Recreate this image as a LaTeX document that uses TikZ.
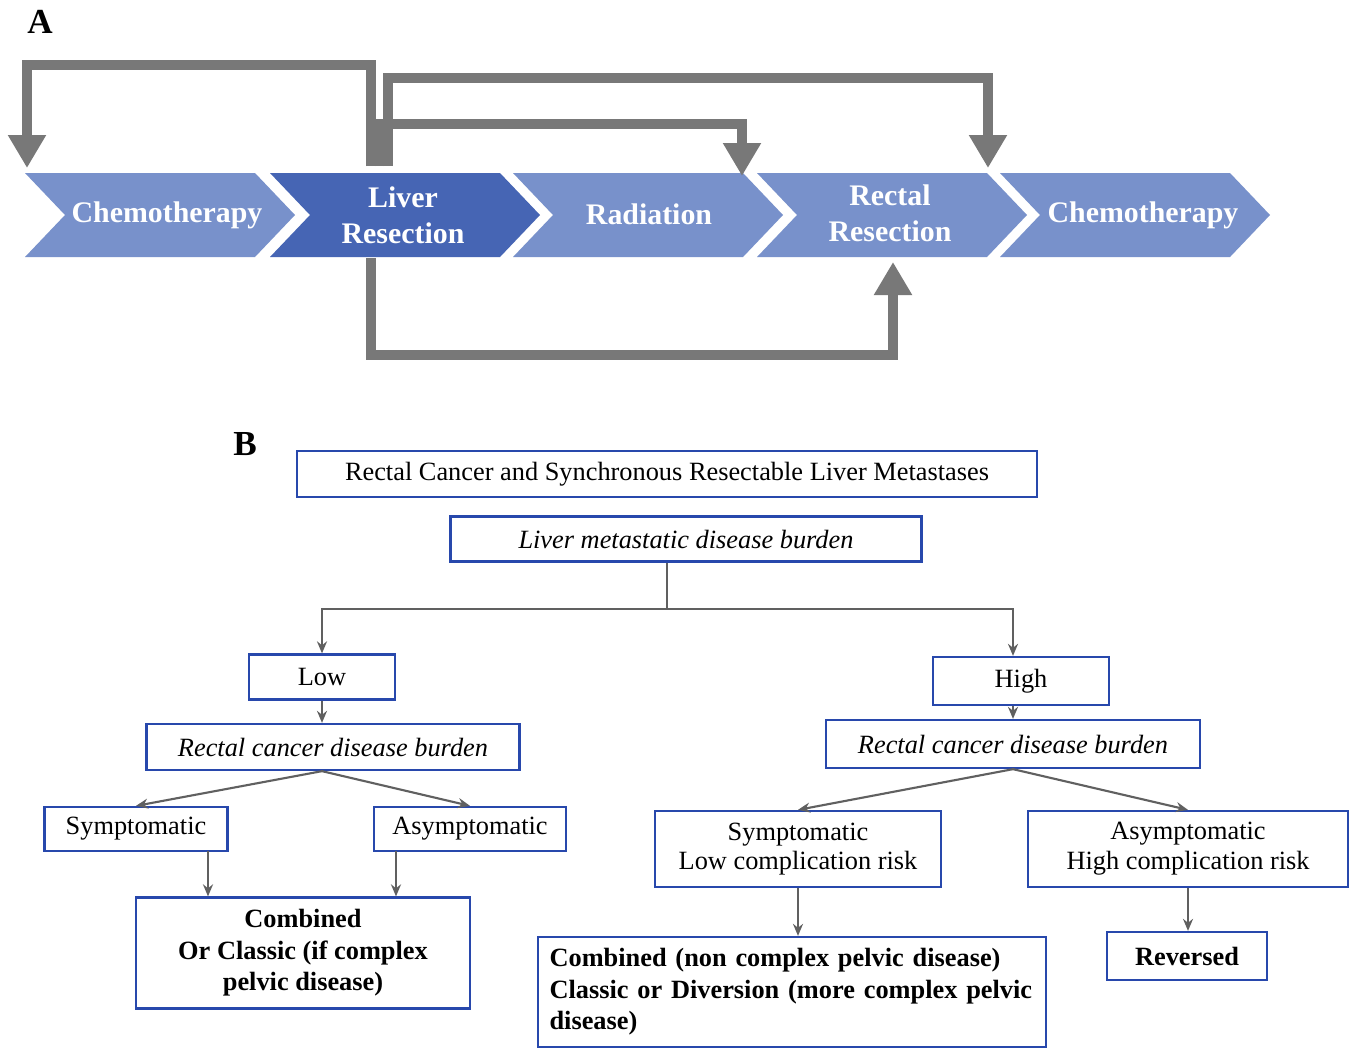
\documentclass[tikz,border=0pt]{standalone}
\usepackage{fontspec}
\setmainfont{Liberation Serif}
\usetikzlibrary{arrows.meta}

\definecolor{chevlight}{RGB}{120,145,203}
\definecolor{chevdark}{RGB}{70,101,180}
\definecolor{bargray}{RGB}{120,120,120}
\definecolor{boxblue}{RGB}{40,72,172}
\definecolor{flowgray}{RGB}{96,96,96}

\tikzset{
  chevtext/.style={text=white, font=\fontsize{17}{20.5}\selectfont\bfseries, align=center},
  bigarrow/.style={draw=bargray, line width=0.2cm, line join=miter, -{Triangle[length=0.66cm, width=0.72cm]}},
  panel/.style={font=\fontsize{20}{24}\selectfont\bfseries},
  blbox/.style={draw=boxblue, line width=1.3pt, inner sep=0pt, align=center, font=\fontsize{15}{17}\selectfont},
  itbox/.style={blbox, font=\fontsize{15}{17}\selectfont\itshape},
  bdbox/.style={blbox, font=\fontsize{15}{18}\selectfont\bfseries},
  flowline/.style={draw=flowgray, line width=1.2pt},
  flow/.style={flowline, -{Stealth[length=0.24cm, width=0.2cm]}}
}

\begin{document}
\begin{tikzpicture}[x=0.02cm, y=-0.02cm]

  \path[use as bounding box, fill=white] (0,0) rectangle (1352,1049);

  % A: treatment sequence
  \node[panel] (labelA) at (40,22) {A};

  \fill[chevlight] (25,173) -- (255,173) -- (295,215) -- (255,257) -- (25,257) -- (65,215) -- cycle;
  \node[chevtext] (chemo1) at (167,215) {Chemotherapy};

  \fill[chevdark] (270,173) -- (500,173) -- (540,215) -- (500,257) -- (270,257) -- (310,215) -- cycle;
  \node[chevtext] (liver) at (403,215) {Liver\\Resection};

  \fill[chevlight] (513,173) -- (743,173) -- (783,215) -- (743,257) -- (513,257) -- (553,215) -- cycle;
  \node[chevtext] (radiation) at (649,214) {Radiation};

  \fill[chevlight] (757,173) -- (987,173) -- (1027,215) -- (987,257) -- (757,257) -- (797,215) -- cycle;
  \node[chevtext] (rectal) at (890,213) {Rectal\\Resection};

  \fill[chevlight] (1000,173) -- (1230,173) -- (1270,215) -- (1230,257) -- (1000,257) -- (1040,215) -- cycle;
  \node[chevtext] (chemo2) at (1143,215) {Chemotherapy};

  \coordinate (liverOutA) at (371,166);
  \coordinate (liverOutB) at (388,166);
  \coordinate (liverOutC) at (380,166);
  \coordinate (liverOutD) at (371,258);
  \coordinate (chemoIn) at (27,168);
  \coordinate (chemoTwoIn) at (988,168);
  \coordinate (radIn) at (742,176);
  \coordinate (rectalIn) at (893,262);

  \draw[bigarrow] (liverOutA) -- ++(0,-101) -| (chemoIn);
  \draw[bigarrow] (liverOutB) -- ++(0,-88) -| (chemoTwoIn);
  \draw[bigarrow] (liverOutC) -- ++(0,-42) -| (radIn);
  \draw[bigarrow] (liverOutD) -- ++(0,97) -| (rectalIn);

  % B: decision tree
  \node[panel] (labelB) at (245,444) {B};

  \node[blbox, minimum width=14.8cm, minimum height=0.92cm] (title) at (667,474) {Rectal Cancer and Synchronous Resectable Liver Metastases};
  \node[itbox, minimum width=9.42cm, minimum height=0.9cm] (burden) at (686,539) {Liver metastatic disease burden};

  \node[blbox, minimum width=2.92cm, minimum height=0.9cm] (low) at (322,677) {Low};
  \node[blbox, minimum width=3.52cm, minimum height=0.96cm] (high) at (1021,681) {High};

  \node[itbox, minimum width=7.46cm, minimum height=0.92cm] (rectalL) at (333,747) {Rectal cancer disease burden};
  \node[itbox, minimum width=7.48cm, minimum height=0.96cm] (rectalR) at (1013,744) {Rectal cancer disease burden};

  \node[blbox, minimum width=3.66cm, minimum height=0.88cm] (symL) at (136,829) {Symptomatic};
  \node[blbox, minimum width=3.84cm, minimum height=0.88cm] (asymL) at (470,829) {Asymptomatic};
  \node[blbox, minimum width=5.72cm, minimum height=1.52cm] (symR) at (798,849) {Symptomatic\\Low complication risk};
  \node[blbox, minimum width=6.4cm, minimum height=1.52cm] (asymR) at (1188,849) {Asymptomatic\\High complication risk};

  \node[bdbox, minimum width=6.68cm, minimum height=2.22cm] (combL) at (303,953) {Combined\\Or Classic (if complex\\pelvic disease)};
  \node[bdbox, minimum width=10.16cm, minimum height=2.2cm, text width=9.7cm, align=left] (combR) at (792,992) {Combined (non complex pelvic disease)\\Classic or Diversion (more complex pelvic\\disease)};
  \node[bdbox, minimum width=3.2cm, minimum height=0.96cm] (rev) at (1187,956) {Reversed};

  \coordinate (split) at (667,609);
  \coordinate (symLout) at (208,851);
  \coordinate (asymLout) at (396,851);

  \draw[flowline] (burden.south -| split) -- (split);
  \draw[flow] (split) -| (low.north);
  \draw[flow] (split) -| (high.north -| rectalR);

  \draw[flow] (low.south) -- (low.south |- rectalL.north);
  \draw[flow] (high.south -| rectalR) -- (rectalR.north);

  \draw[flow] (rectalL.south -| low) -- (symL.north);
  \draw[flow] (rectalL.south -| low) -- (asymL.north);
  \draw[flow] (rectalR.south) -- (symR.north);
  \draw[flow] (rectalR.south) -- (asymR.north);

  \draw[flow] (symLout) -- (symLout |- combL.north);
  \draw[flow] (asymLout) -- (asymLout |- combL.north);
  \draw[flow] (symR.south) -- (symR.south |- combR.north);
  \draw[flow] (asymR.south) -- (asymR.south |- rev.north);

\end{tikzpicture}
\end{document}
